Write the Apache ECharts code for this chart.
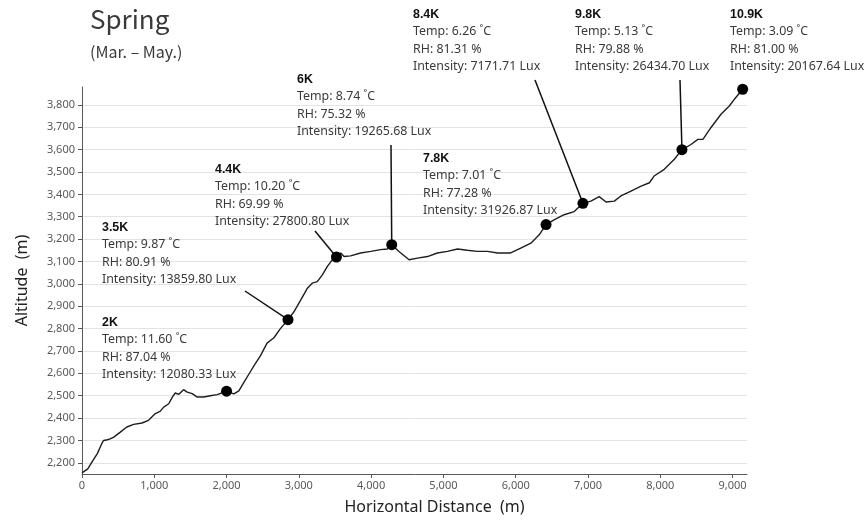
<!DOCTYPE html>
<html>
<head>
<meta charset="utf-8">
<title>Spring (Mar. - May.)</title>
<script src="https://cdn.jsdelivr.net/npm/echarts@6/dist/echarts.min.js"></script>
<style>
  html, body { margin: 0; padding: 0; background: #fff; }
  #chart { width: 868px; height: 522px; }
</style>
</head>
<body>
<div id="chart"></div>
<script>
// altitude profile along the trail: [horizontal distance (m), altitude (m)]
var profile = [
  [0, 2155], [80, 2173], [150, 2210], [210, 2240], [280, 2290], [300, 2300], [350, 2303],
  [390, 2307], [440, 2315], [530, 2337], [620, 2360], [715, 2372], [830, 2378], [920, 2390],
  [1015, 2420], [1085, 2431], [1130, 2449], [1200, 2464], [1250, 2494], [1290, 2512],
  [1340, 2506], [1405, 2527], [1455, 2516], [1525, 2509], [1595, 2494], [1685, 2494],
  [1775, 2500], [1870, 2505], [2000, 2520], [2100, 2508], [2170, 2522], [2240, 2560],
  [2310, 2597], [2380, 2634], [2470, 2679], [2560, 2735], [2655, 2759], [2745, 2800],
  [2850, 2840], [2930, 2874], [3025, 2927], [3115, 2979], [3185, 3003], [3255, 3010],
  [3325, 3040], [3395, 3078], [3465, 3108], [3520, 3120], [3580, 3138], [3625, 3122],
  [3715, 3125], [3855, 3138], [3995, 3145], [4130, 3153], [4225, 3156], [4285, 3175],
  [4385, 3145], [4525, 3108], [4640, 3115], [4780, 3122], [4915, 3138], [5055, 3145],
  [5195, 3156], [5330, 3150], [5470, 3145], [5610, 3145], [5750, 3138], [5930, 3138],
  [6070, 3160], [6210, 3182], [6325, 3219], [6420, 3265], [6530, 3286], [6670, 3309],
  [6810, 3323], [6930, 3360], [7040, 3370], [7155, 3390], [7250, 3366], [7365, 3370],
  [7455, 3393], [7595, 3415], [7735, 3437], [7850, 3452], [7915, 3482], [8055, 3512],
  [8195, 3557], [8300, 3600], [8425, 3623], [8520, 3646], [8590, 3646], [8700, 3698],
  [8840, 3758], [8955, 3795], [9025, 3825], [9140, 3870]
]

// measuring stations
var stationNames = ['2K', '3.5K', '4.4K', '6K', '7.8K', '8.4K', '9.8K', '10.9K']
var stationDist = [2000, 2850, 3520, 4285, 6420, 6930, 8300, 9140]
var stationAlt = [2520, 2840, 3120, 3175, 3265, 3360, 3600, 3870]
var stationTemp = ['11.60', '9.87', '10.20', '8.74', '7.01', '6.26', '5.13', '3.09']
var stationRH = ['87.04', '80.91', '69.99', '75.32', '77.28', '81.31', '79.88', '81.00']
var stationLux = ['12080.33', '13859.80', '27800.80', '19265.68', '31926.87', '7171.71', '26434.70', '20167.64']

// callout layout (top-left of each text block) and leader line start, in px
var calloutPos = [[102, 314], [102, 219], [215, 161], [297, 71], [423, 150], [413, 6], [575, 6], [730, 6]]
var leaderFrom = [null, [245, 291], [315, 231], [391, 145], null, [535, 80], [680, 80], null]

var textFont = 'Noto Sans'
var textColor = '#3a3a3a'

function comma(v) {
  return String(v).replace(/\B(?=(\d{3})+(?!\d))/g, ',')
}

var chart = echarts.init(document.getElementById('chart'))

var stationPoints = stationDist.map(function(d, i) {
  return [d, stationAlt[i]]
})

var titles = [{
  type: 'text',
  left: 90,
  top: 6,
  style: { text: 'Spring', font: '26px "Noto Sans CJK JP"', fill: textColor }
}, {
  type: 'text',
  left: 90,
  top: 44,
  style: { text: '(Mar. \u2013 May.)', font: '16px "Noto Sans CJK JP"', fill: textColor }
}]

var callouts = stationNames.map(function(name, i) {
  return {
    type: 'text',
    left: calloutPos[i][0],
    top: calloutPos[i][1],
    z: 5,
    style: {
      text: '{b|' + name + '}\nTemp: ' + stationTemp[i] + ' \u02DAC\nRH: ' + stationRH[i] +
        ' %\nIntensity: ' + stationLux[i] + ' Lux',
      font: '12.4px "' + textFont + '"',
      fill: textColor,
      lineHeight: 17.3,
      rich: {
        b: { fontWeight: 'bold', fill: '#111', fontSize: 12.4, lineHeight: 17.3 }
      }
    }
  }
})

chart.setOption({
  animation: false,
  grid: {
    left: 82,
    right: 121,
    top: 87,
    bottom: 48
  },
  graphic: titles.concat(callouts),
  xAxis: {
    type: 'value',
    min: 0,
    max: 9200,
    interval: 1000,
    name: 'Horizontal Distance  (m)',
    nameLocation: 'middle',
    nameGap: 25,
    nameTextStyle: { fontFamily: textFont, fontSize: 16, color: '#222', padding: [0, 0, 0, 40] },
    axisLine: { lineStyle: { color: '#595959', width: 1 } },
    axisTick: { show: true, length: 4, lineStyle: { color: '#595959' } },
    axisLabel: {
      showMaxLabel: false,
      fontFamily: textFont,
      fontSize: 11,
      color: '#595959',
      margin: 6,
      formatter: comma
    },
    splitLine: { show: false }
  },
  yAxis: {
    type: 'value',
    min: 2150,
    max: 3880,
    splitNumber: 17,
    name: 'Altitude  (m)',
    nameLocation: 'middle',
    nameGap: 52,
    nameTextStyle: { fontFamily: textFont, fontSize: 16, color: '#222' },
    axisLine: { show: true, lineStyle: { color: '#595959', width: 1 } },
    axisTick: { show: true, length: 4, lineStyle: { color: '#595959' } },
    axisLabel: {
      showMinLabel: false,
      showMaxLabel: false,
      fontFamily: textFont,
      fontSize: 11,
      color: '#595959',
      margin: 7,
      formatter: comma
    },
    splitLine: {
      show: true,
      showMinLine: false,
      showMaxLine: false,
      lineStyle: { color: '#e3e3e3', width: 1 }
    }
  },
  series: [{
    name: 'Altitude',
    type: 'line',
    data: profile,
    showSymbol: false,
    smooth: false,
    lineStyle: { color: '#1e1e1e', width: 1.4 },
    z: 2
  }, {
    name: 'Stations',
    type: 'scatter',
    data: stationPoints,
    symbolSize: 11,
    itemStyle: { color: '#000', opacity: 1 },
    z: 4
  }]
})

// leader lines from the callouts to the station dots
var leaders = []
leaderFrom.forEach(function(from, i) {
  if (!from) return
  var to = chart.convertToPixel({ gridIndex: 0 }, stationPoints[i])
  leaders.push({
    type: 'line',
    z: 3,
    shape: { x1: from[0], y1: from[1], x2: to[0], y2: to[1] },
    style: { stroke: '#111', lineWidth: 1.5 }
  })
})

chart.setOption({
  graphic: titles.concat(callouts).concat(leaders)
})
</script>
</body>
</html>
